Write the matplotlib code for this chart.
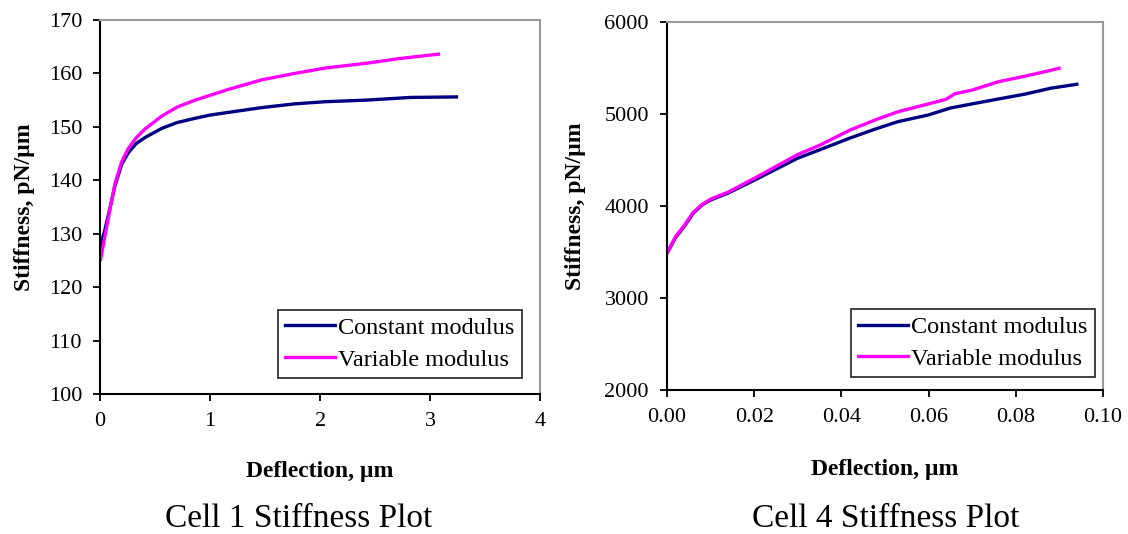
import matplotlib.pyplot as plt

# Cell 1 stiffness vs deflection
c1_x_const = [0.005, 0.045, 0.09, 0.136, 0.197, 0.258, 0.33, 0.409, 0.56, 0.7, 0.864, 1.0, 1.165, 1.47, 1.77, 2.045, 2.42, 2.82, 3.24]
c1_y_const = [127.8, 130.8, 134.8, 139.0, 143.0, 145.2, 146.9, 148.0, 149.7, 150.8, 151.6, 152.2, 152.7, 153.6, 154.3, 154.7, 155.0, 155.5, 155.6]
c1_x_var = [0.005, 0.045, 0.09, 0.136, 0.197, 0.258, 0.33, 0.409, 0.56, 0.7, 0.864, 1.0, 1.165, 1.47, 1.77, 2.045, 2.42, 2.73, 3.076]
c1_y_var = [125.2, 129.6, 134.6, 139.4, 143.5, 146.0, 148.0, 149.6, 152.0, 153.7, 155.0, 155.9, 157.0, 158.8, 160.0, 161.0, 161.9, 162.8, 163.6]

# Cell 4 stiffness vs deflection
c4_x_const = [0.0, 0.002, 0.004, 0.006, 0.008, 0.01, 0.014, 0.02, 0.025, 0.03, 0.035, 0.042, 0.048, 0.053, 0.06, 0.065, 0.07, 0.076, 0.082, 0.088, 0.094]
c4_y_const = [3486, 3660, 3780, 3920, 4010, 4065, 4140, 4280, 4400, 4520, 4610, 4739, 4840, 4917, 4990, 5065, 5110, 5163, 5215, 5280, 5323]
c4_x_var = [0.0, 0.002, 0.004, 0.006, 0.008, 0.01, 0.014, 0.02, 0.025, 0.03, 0.035, 0.042, 0.048, 0.053, 0.06, 0.064, 0.066, 0.07, 0.076, 0.082, 0.0876, 0.0899]
c4_y_var = [3486, 3670, 3790, 3930, 4015, 4075, 4150, 4300, 4430, 4560, 4660, 4826, 4940, 5025, 5110, 5160, 5220, 5260, 5351, 5410, 5470, 5497]

series_names = ['Constant modulus', 'Variable modulus']
navy = '#000080'
magenta = '#ff00ff'

plt.rcParams['font.family'] = ['Liberation Serif', 'DejaVu Serif']

fig = plt.figure(figsize=(11.28, 5.34), dpi=100)
ax1 = fig.add_axes([0.0887, 0.2622, 0.3901, 0.7004])
ax2 = fig.add_axes([0.5913, 0.2697, 0.3865, 0.6891])

panels = [
    dict(ax=ax1, xc=c1_x_const, yc=c1_y_const, xv=c1_x_var, yv=c1_y_var,
         xlim=(0, 4), ylim=(100, 170), xt=[0, 1, 2, 3, 4], yt=list(range(100, 171, 10)),
         fmt='{:.0f}', title='Cell 1 Stiffness Plot', tx=299,
         ylab_x=-0.148, xlab_y=-0.179, leg=(0.959, 0.043)),
    dict(ax=ax2, xc=c4_x_const, yc=c4_y_const, xv=c4_x_var, yv=c4_y_var,
         xlim=(0, 0.1), ylim=(2000, 6000), xt=[0, 0.02, 0.04, 0.06, 0.08, 0.10],
         yt=list(range(2000, 6001, 1000)),
         fmt='{:.2f}', title='Cell 4 Stiffness Plot', tx=886,
         ylab_x=-0.186, xlab_y=-0.1875, leg=(0.982, 0.035)),
]

for p in panels:
    ax = p['ax']
    ax.plot(p['xc'], p['yc'], color=navy, lw=2.4, label=series_names[0])
    ax.plot(p['xv'], p['yv'], color=magenta, lw=2.4, label=series_names[1])
    ax.set_xlim(*p['xlim'])
    ax.set_ylim(*p['ylim'])
    ax.set_xticks(p['xt'])
    ax.set_xticklabels([p['fmt'].format(v) for v in p['xt']])
    ax.set_yticks(p['yt'])
    ax.tick_params(direction='out', length=5, width=1.3, labelsize=16, colors='black')
    ax.tick_params(axis='y', pad=8)
    ax.tick_params(axis='x', pad=8)
    for s in ['left', 'bottom']:
        ax.spines[s].set_color('black')
        ax.spines[s].set_linewidth(1.5)
    for s in ['top', 'right']:
        ax.spines[s].set_color('#999999')
        ax.spines[s].set_linewidth(1.5)
    ax.set_ylabel('Stiffness, pN/µm', fontsize=17, fontweight='bold')
    ax.set_xlabel('Deflection, µm', fontsize=17, fontweight='bold')
    ax.yaxis.set_label_coords(p['ylab_x'], 0.5)
    ax.xaxis.set_label_coords(0.5, p['xlab_y'])
    leg = ax.legend(loc='lower right', bbox_to_anchor=p['leg'], borderaxespad=0,
                    fontsize=17.5, frameon=True, fancybox=False, edgecolor='black',
                    handlelength=2.05, handletextpad=0.15, labelspacing=0.4,
                    borderpad=0.3)
    leg.get_frame().set_linewidth(1.3)
    fig.text(p['tx'] / 1128, 1 - 519 / 534, p['title'], ha='center', va='center',
             fontsize=24)

fig.savefig('out.png', dpi=100)
